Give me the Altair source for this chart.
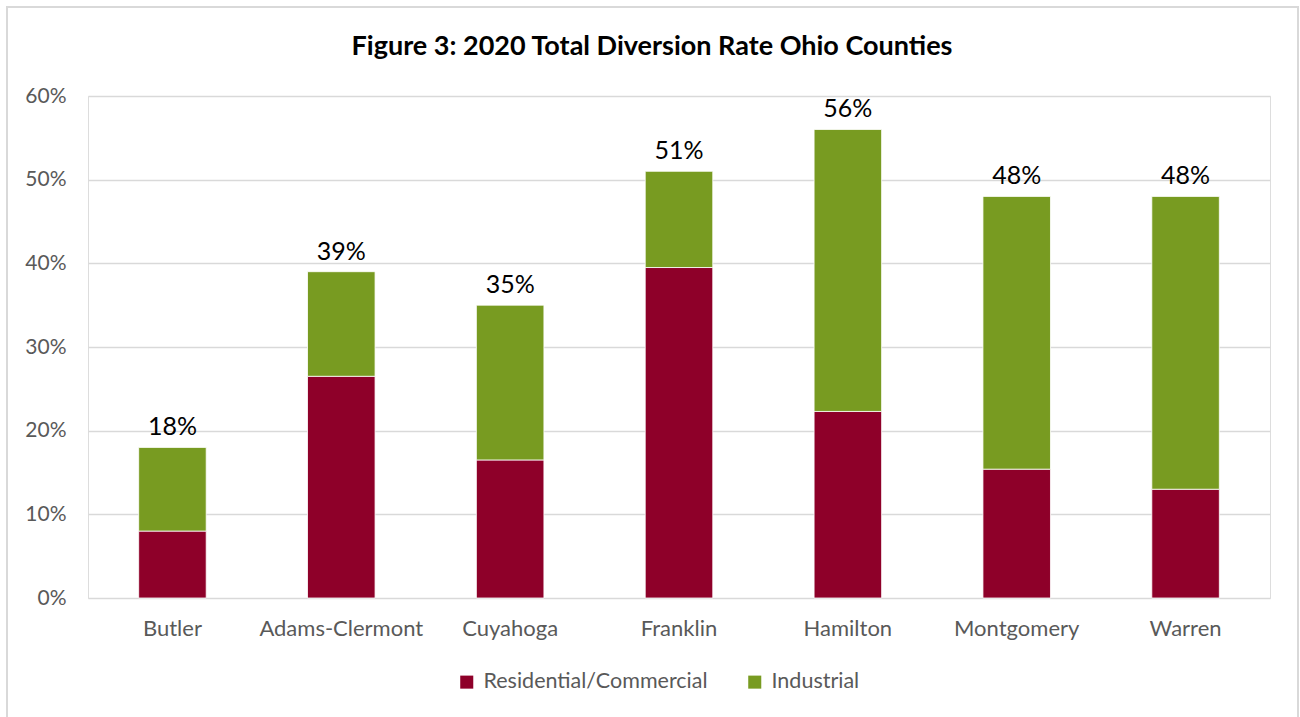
import altair as alt
import pandas as pd

counties = ["Butler", "Adams-Clermont", "Cuyahoga", "Franklin", "Hamilton", "Montgomery", "Warren"]
residential = [8.0, 26.5, 16.5, 39.5, 22.3, 15.4, 13.0]
totals = [18, 39, 35, 51, 56, 48, 48]
series = ["Residential/Commercial", "Industrial"]
colors = ["#8E0029", "#789B21"]
title_text = ["Figure 3: 2020 Total Diversion Rate Ohio Counties"]

rows = []
for c, r, t in zip(counties, residential, totals):
    rows.append({"county": c, "series": series[0], "value": r / 100, "ord": 0})
    rows.append({"county": c, "series": series[1], "value": (t - r) / 100, "ord": 1})
df = pd.DataFrame(rows)
tot = pd.DataFrame({"county": counties, "total": [t / 100 for t in totals]})
ttl = pd.DataFrame({"t": title_text})

FONT = "Lato"

x = alt.X("county:N", sort=counties, title=None,
          scale=alt.Scale(paddingInner=0.6, paddingOuter=0.3),
          axis=alt.Axis(labelAngle=0, labelFontSize=22, labelColor="#595959",
                        labelPadding=20, ticks=False, domain=False, labelFont=FONT))
y = alt.Y("value:Q", stack="zero", title=None,
          scale=alt.Scale(domain=[0, 0.6]),
          axis=alt.Axis(format=".0%", values=[0, 0.1, 0.2, 0.3, 0.4, 0.5, 0.6],
                        labelFontSize=21, labelColor="#595959", labelPadding=22,
                        ticks=False, domain=False, gridColor="#d9d9d9", gridWidth=1.5,
                        labelFont=FONT))

bars = alt.Chart(df).mark_bar(stroke="white", strokeWidth=0.8).encode(
    x=x, y=y,
    color=alt.Color("series:N", sort=series,
                    scale=alt.Scale(domain=series, range=colors),
                    legend=alt.Legend(title=None, orient="none", legendX=368, legendY=575,
                                      direction="horizontal", symbolType="square",
                                      symbolSize=170, symbolStrokeWidth=0,
                                      labelFontSize=21.5, labelColor="#595959",
                                      labelFont=FONT, columnPadding=36, padding=0,
                                      labelOffset=6, labelLimit=0)),
    order=alt.Order("ord:Q"),
)

labels = alt.Chart(tot).mark_text(baseline="alphabetic", dy=-12, fontSize=25,
                                  color="black", font=FONT).encode(
    x=alt.X("county:N", sort=counties),
    y=alt.Y("total:Q"),
    text=alt.Text("total:Q", format=".0%"),
)

title = alt.Chart(ttl).mark_text(align="center", baseline="alphabetic", fontSize=27,
                                 fontWeight="bold", font=FONT, color="black").encode(
    x=alt.value(564), y=alt.value(-41), text="t:N"
)

border = alt.Chart(tot).mark_rect(fill=None, stroke="#d9d9d9", strokeWidth=1.5).encode(
    x=alt.value(-81), x2=alt.value(1210), y=alt.value(-89), y2=alt.value(700)
)

chart = alt.layer(border, bars, labels, title).properties(
    width=1182, height=502,
    autosize=alt.AutoSizeParams(type="none"),
    padding={"left": 88, "top": 96, "right": 30, "bottom": 119},
).configure_view(stroke=None).configure(background="white")

chart.save("out.html", embed_options={"renderer": "svg", "actions": False})
